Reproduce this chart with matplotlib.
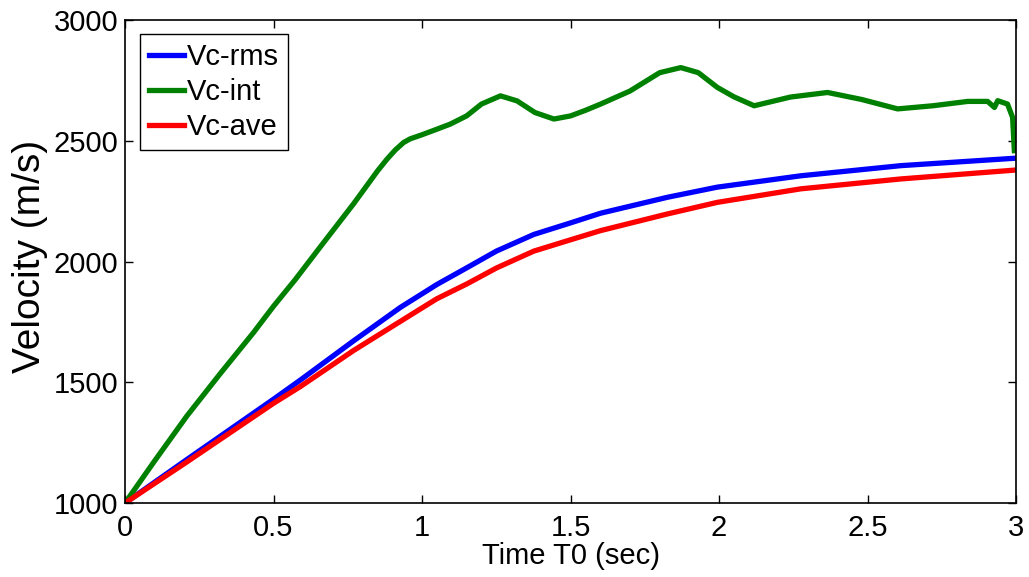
import matplotlib
matplotlib.use('Agg')
import matplotlib.pyplot as plt

# DATA
t_rms = [0, 0.208, 0.5, 0.59, 0.77, 0.927, 1.05, 1.152, 1.25, 1.376, 1.5, 1.601, 1.826, 1.994, 2.275, 2.612, 3.0]
v_rms = [1000, 1180, 1430, 1509, 1672, 1810, 1905, 1975, 2043, 2112, 2160, 2200, 2266, 2308, 2355, 2397, 2428]

t_int = [0, 0.1, 0.208, 0.32, 0.432, 0.5, 0.573, 0.657, 0.77, 0.85, 0.882, 0.91,
         0.938, 0.96, 1.0, 1.05, 1.095, 1.15, 1.2, 1.264, 1.32, 1.38, 1.444, 1.5,
         1.55, 1.601, 1.7, 1.8, 1.871, 1.93, 1.994, 2.05, 2.118, 2.24, 2.365, 2.48,
         2.601, 2.72, 2.837, 2.904, 2.927, 2.938, 2.971, 2.988, 2.994]
v_int = [1000, 1175, 1360, 1535, 1705, 1815, 1925, 2060, 2240, 2375, 2424, 2462,
         2493, 2508, 2525, 2548, 2569, 2603, 2652, 2686, 2665, 2617, 2590, 2603,
         2626, 2652, 2706, 2782, 2803, 2782, 2721, 2682, 2645, 2681, 2700, 2671,
         2632, 2645, 2663, 2663, 2638, 2666, 2652, 2597, 2459]

t_ave = [0, 0.208, 0.5, 0.59, 0.77, 0.983, 1.05, 1.152, 1.25, 1.376, 1.5, 1.601, 1.826, 1.994, 2.275, 2.612, 3.0]
v_ave = [1000, 1170, 1413, 1482, 1632, 1795, 1846, 1908, 1973, 2043, 2090, 2128, 2197, 2245, 2301, 2342, 2379]

x_ticks = [0, 0.5, 1, 1.5, 2, 2.5, 3]
x_labels = ['0', '0.5', '1', '1.5', '2', '2.5', '3']
y_ticks = [1000, 1500, 2000, 2500, 3000]

plt.rcParams['font.family'] = ['Liberation Sans', 'DejaVu Sans']

fig = plt.figure(figsize=(10.29, 5.77), dpi=100)
ax = fig.add_axes([0.1215, 0.1282, 0.866, 0.8371])

lw = 3.8
ax.plot(t_rms, v_rms, color='#0000ff', lw=lw, label='Vc-rms')
ax.plot(t_int, v_int, color='#008000', lw=lw, label='Vc-int')
ax.plot(t_ave, v_ave, color='#ff0000', lw=lw, label='Vc-ave')

ax.set_xlim(0, 3)
ax.set_ylim(1000, 3000)
ax.set_xticks(x_ticks)
ax.set_xticklabels(x_labels)
ax.set_yticks(y_ticks)
ax.tick_params(direction='in', length=6, width=1, labelsize=21,
               top=True, right=True)
ax.tick_params(axis='x', pad=8)
ax.tick_params(axis='y', pad=5)
for s in ax.spines.values():
    s.set_linewidth(1.2)

ax.set_xlabel('Time T0 (sec)', fontsize=21)
ax.xaxis.set_label_coords(0.5, -0.08)
ax.set_ylabel('Velocity (m/s)', fontsize=28)
ax.yaxis.set_label_coords(-0.086, 0.51)

leg = ax.legend(loc='upper left', bbox_to_anchor=(0.017, 0.971), borderaxespad=0,
                fontsize=21, handlelength=1.2, handletextpad=0.1,
                labelspacing=0.25, borderpad=0.3, fancybox=False,
                framealpha=1, edgecolor='black')
leg.get_frame().set_linewidth(1.0)

fig.savefig('out.png', dpi=100)
